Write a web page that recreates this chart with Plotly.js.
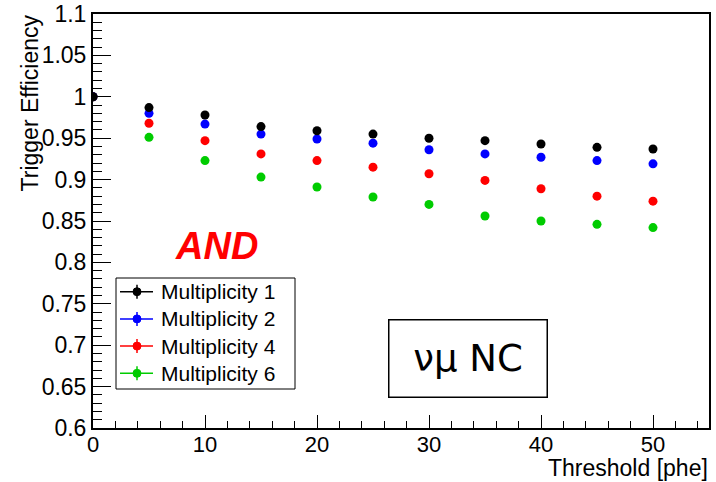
<!DOCTYPE html>
<html>
<head>
<meta charset="utf-8">
<script src="https://cdn.plot.ly/plotly-3.0.1.min.js"></script>
<style>html,body{margin:0;padding:0;background:#fff;}#plot{width:716px;height:482px;}</style>
</head>
<body>
<div id="plot"></div>
<script>
const thresholds = [0, 5, 10, 15, 20, 25, 30, 35, 40, 45, 50];
const mult1 = [1.000, 0.987, 0.978, 0.964, 0.959, 0.955, 0.950, 0.947, 0.943, 0.939, 0.937];
const mult2 = [1.000, 0.980, 0.967, 0.955, 0.949, 0.944, 0.936, 0.931, 0.927, 0.923, 0.919];
const mult4 = [1.000, 0.968, 0.947, 0.931, 0.923, 0.915, 0.907, 0.899, 0.889, 0.880, 0.874];
const mult6 = [1.000, 0.951, 0.923, 0.903, 0.891, 0.879, 0.870, 0.856, 0.850, 0.846, 0.842];
const seriesNames = ['Multiplicity 1', 'Multiplicity 2', 'Multiplicity 4', 'Multiplicity 6'];
const seriesColors = ['#000000', '#0000ff', '#ff0000', '#00cc00'];
const seriesValues = [mult1, mult2, mult4, mult6];

const font = 'Liberation Sans, Arial, Helvetica, sans-serif';
const traces = [];
// draw in reverse so Multiplicity 1 sits on top
for (let i = seriesValues.length - 1; i >= 0; i--) {
  traces.push({
    x: thresholds, y: seriesValues[i], type: 'scatter', mode: 'markers',
    name: seriesNames[i],
    marker: {color: seriesColors[i], size: 9},
    showlegend: false, hoverinfo: 'x+y'
  });
}

// plot-area geometry (pixels) used to place the hand-drawn ROOT-style legend
const M = {l: 93, r: 7, t: 14, b: 54};
const W = 716, H = 482;
const pw = W - M.l - M.r, ph = H - M.t - M.b;
const px = v => (v - M.l) / pw;
const py = v => (H - M.b - v) / ph;

const shapes = [];
const annotations = [];
// legend box
shapes.push({type: 'rect', xref: 'paper', yref: 'paper',
  x0: px(116), x1: px(295), y0: py(389), y1: py(278),
  fillcolor: '#fff', line: {color: '#000', width: 1}, layer: 'above'});
seriesNames.forEach((name, i) => {
  const cy = 291.7 + i * 27.2;
  const c = seriesColors[i];
  shapes.push({type: 'line', xref: 'paper', yref: 'paper',
    x0: px(120), x1: px(153), y0: py(cy), y1: py(cy), line: {color: c, width: 1.5}, layer: 'above'});
  shapes.push({type: 'line', xref: 'paper', yref: 'paper',
    x0: px(137), x1: px(137), y0: py(cy - 7), y1: py(cy + 7), line: {color: c, width: 1.5}, layer: 'above'});
  shapes.push({type: 'circle', xref: 'paper', yref: 'paper',
    x0: px(133), x1: px(141), y0: py(cy + 4), y1: py(cy - 4),
    fillcolor: c, line: {color: c, width: 1}, layer: 'above'});
  annotations.push({text: name, xref: 'paper', yref: 'paper', x: px(159), y: py(cy),
    xanchor: 'left', yanchor: 'middle', showarrow: false,
    font: {size: 21, family: font, color: '#000'}});
});

annotations.push(
  {text: 'Trigger Efficiency', xref: 'paper', yref: 'paper', x: -0.102, y: 1.003,
   xanchor: 'center', yanchor: 'top', textangle: -90, showarrow: false,
   font: {size: 23, family: font, color: '#000'}},
  {text: 'Threshold [phe]', xref: 'paper', yref: 'paper', x: 1.0016, y: -0.097,
   xanchor: 'right', yanchor: 'middle', showarrow: false,
   font: {size: 23, family: font, color: '#000'}},
  {text: '<b><i>AND</i></b>', xref: 'paper', yref: 'paper', x: 0.1997, y: 0.4396,
   xanchor: 'center', yanchor: 'middle', showarrow: false,
   font: {size: 38, family: font, color: '#ff0000'}},
  {text: 'νμ NC', xref: 'paper', yref: 'paper', x: 0.6088, y: 0.169,
   xanchor: 'center', yanchor: 'middle', showarrow: false,
   width: 155, height: 74, bgcolor: '#fff',
   bordercolor: '#000', borderwidth: 1.5, borderpad: 1,
   font: {size: 37, family: 'DejaVu Sans, sans-serif', color: '#000'}}
);

const layout = {
  width: W, height: H,
  margin: M,
  paper_bgcolor: '#fff', plot_bgcolor: '#fff',
  font: {family: font, color: '#000'},
  showlegend: false,
  xaxis: {
    range: [0, 55], tickmode: 'linear', tick0: 0, dtick: 10,
    ticks: 'inside', ticklen: 13, tickwidth: 1, tickcolor: '#000',
    minor: {dtick: 2, ticks: 'inside', ticklen: 7, tickcolor: '#000', showgrid: false},
    showline: true, linecolor: '#000', linewidth: 2, mirror: true,
    showgrid: false, zeroline: false, ticklabelstandoff: -4,
    tickfont: {size: 22, family: font, color: '#000'}
  },
  yaxis: {
    range: [0.6, 1.1], tickmode: 'linear', tick0: 0.6, dtick: 0.05,
    ticks: 'inside', ticklen: 18, tickwidth: 1, tickcolor: '#000',
    minor: {dtick: 0.01, ticks: 'inside', ticklen: 9, tickcolor: '#000', showgrid: false},
    showline: true, linecolor: '#000', linewidth: 2, mirror: true,
    showgrid: false, zeroline: false,
    tickfont: {size: 23, family: font, color: '#000'},
    tickformat: '~g'
  },
  shapes: shapes,
  annotations: annotations
};

Plotly.newPlot('plot', traces, layout, {displayModeBar: false, staticPlot: true});
</script>
</body>
</html>
